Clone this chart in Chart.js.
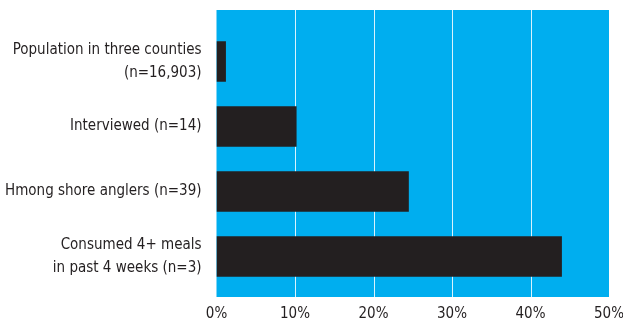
<!DOCTYPE html>
<html>
<head>
<meta charset="utf-8">
<script src="https://cdn.jsdelivr.net/npm/chart.js@4/dist/chart.umd.min.js"></script>
<style>
  html, body { margin: 0; padding: 0; background: #ffffff; }
  #wrap { width: 623px; height: 321px; position: relative; }
</style>
</head>
<body>
<div id="wrap"><canvas id="c" width="623" height="321"></canvas></div>
<script>
const categories = [
  ["Population in three counties", "(n=16,903)"],
  "Interviewed (n=14)",
  "Hmong shore anglers (n=39)",
  ["Consumed 4+ meals", "in past 4 weeks (n=3)"]
];
const percentValues = [1.2, 10.2, 24.5, 44.0];
const xTickMin = 0;
const xTickMax = 50;
const xTickStep = 10;

const FONT = "'DejaVu Sans Condensed', 'Liberation Sans Narrow', sans-serif";
const CYAN = '#00AEEF';
const BAR = '#231F20';
const TEXT = '#231F20';

const panelPlugin = {
  id: 'panel',
  beforeDraw(chart) {
    const { ctx, chartArea, scales } = chart;
    const x = scales.x;
    const left = x.getPixelForValue(xTickMin);
    const right = x.getPixelForValue(xTickMax);
    const top = chartArea.top - 19;
    const bottom = chartArea.bottom + 8;
    ctx.save();
    ctx.fillStyle = CYAN;
    ctx.fillRect(left, top, right - left, bottom - top);
    ctx.strokeStyle = 'rgba(255,255,255,0.85)';
    ctx.lineWidth = 1;
    for (let v = xTickMin + xTickStep; v < xTickMax; v += xTickStep) {
      const px = Math.round(x.getPixelForValue(v)) + 0.5;
      ctx.beginPath();
      ctx.moveTo(px, top);
      ctx.lineTo(px, bottom);
      ctx.stroke();
    }
    ctx.restore();
  }
};

new Chart(document.getElementById('c'), {
  type: 'bar',
  data: {
    labels: categories,
    datasets: [{
      data: percentValues,
      backgroundColor: BAR,
      borderWidth: 0,
      categoryPercentage: 1.0,
      barPercentage: 0.626
    }]
  },
  options: {
    indexAxis: 'y',
    responsive: false,
    animation: false,
    devicePixelRatio: 1,
    layout: { padding: { top: 29, right: 14, left: 0, bottom: 0 } },
    plugins: {
      legend: { display: false },
      tooltip: { enabled: false }
    },
    scales: {
      x: {
        min: xTickMin,
        max: xTickMax,
        border: { display: false },
        grid: { display: false, drawTicks: false },
        ticks: {
          stepSize: xTickStep,
          padding: 16,
          color: TEXT,
          font: { family: FONT, size: 15 },
          callback: (v) => v + '%'
        },
        afterFit(scale) {
          scale.height = 32;
          scale.paddingLeft = 0; scale.paddingRight = 0;
          scale.paddingTop = 0; scale.paddingBottom = 0;
        }
      },
      y: {
        border: { display: false },
        grid: { display: false, drawTicks: false },
        ticks: {
          padding: 15,
          color: TEXT,
          font: { family: FONT, size: 15, lineHeight: 1.57 }
        },
        afterFit(scale) {
          scale.width = 216.5;
          scale.paddingLeft = 0; scale.paddingRight = 0;
          scale.paddingTop = 0; scale.paddingBottom = 0;
        }
      }
    }
  },
  plugins: [panelPlugin]
});
</script>
</body>
</html>
